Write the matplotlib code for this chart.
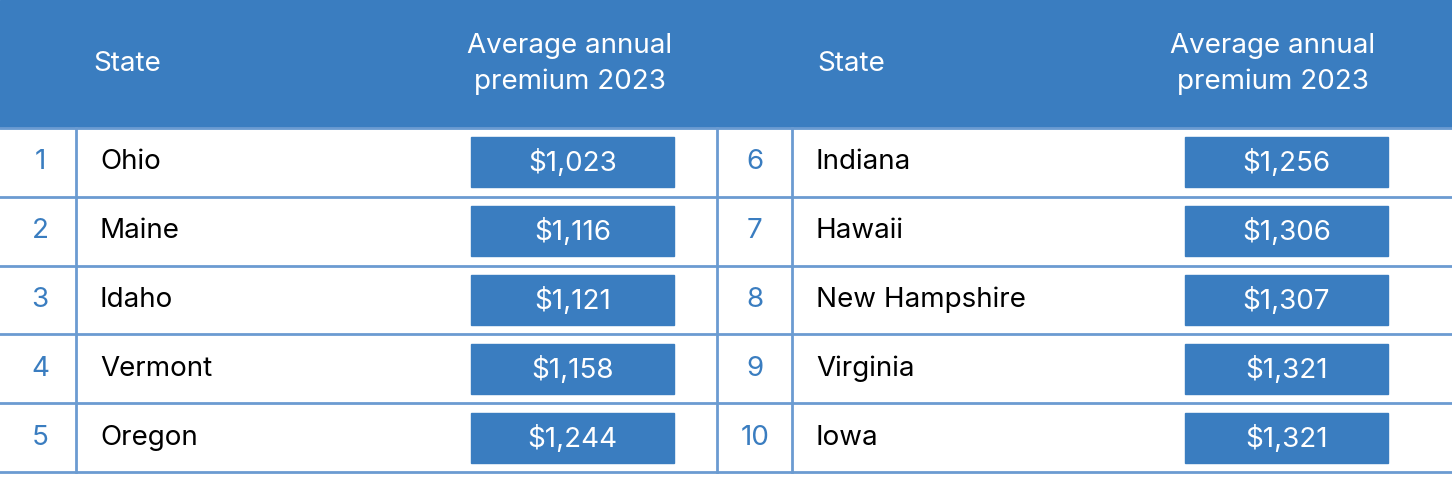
import matplotlib.pyplot as plt
from matplotlib.patches import Rectangle

ranks = [1, 2, 3, 4, 5, 6, 7, 8, 9, 10]
states = ["Ohio", "Maine", "Idaho", "Vermont", "Oregon",
          "Indiana", "Hawaii", "New Hampshire", "Virginia", "Iowa"]
premiums = ["$1,023", "$1,116", "$1,121", "$1,158", "$1,244",
            "$1,256", "$1,306", "$1,307", "$1,321", "$1,321"]

blue = "#3a7dc0"
line = "#6b9bd1"
plt.rcParams['font.family'] = ['Inter', 'DejaVu Sans']

W, H = 1452, 497
fig = plt.figure(figsize=(W / 100, H / 100), dpi=100)
ax = fig.add_axes([0, 0, 1, 1])
ax.set_xlim(0, W)
ax.set_ylim(H, 0)
ax.set_axis_off()

# header
ax.add_patch(Rectangle((0, 0), W, 128, color=blue, zorder=1))
for x0, xs, xp in [(0, 93, 570), (717, 817, 1273)]:
    ax.text(xs, 64, "State", color="white", fontsize=20, va="center", ha="left")
    ax.text(xp, 64, "Average annual\npremium 2023", color="white", fontsize=20,
            va="center", ha="center", linespacing=1.45)

row_h = 68.8
top = 128
for i in range(6):
    y = top + i * row_h
    ax.plot([0, W], [y, y], color=line, lw=2, zorder=2)
for x in [76, 717, 792]:
    ax.plot([x, x], [top, top + 5 * row_h], color=line, lw=2, zorder=2)

for i in range(10):
    col = i // 5
    r = i % 5
    yc = top + (r + 0.5) * row_h
    xr = 40 if col == 0 else 755
    xs = 100 if col == 0 else 816
    bx = 471 if col == 0 else 1185
    ax.text(xr, yc, str(ranks[i]), color=blue, fontsize=20, ha="center", va="center")
    ax.text(xs, yc, states[i], color="black", fontsize=20, ha="left", va="center")
    ax.add_patch(Rectangle((bx, yc - 25), 203, 50, color=blue, zorder=3))
    ax.text(bx + 101.5, yc + 1, premiums[i], color="white", fontsize=20,
            ha="center", va="center", zorder=4)

fig.savefig("out.png", dpi=100)
